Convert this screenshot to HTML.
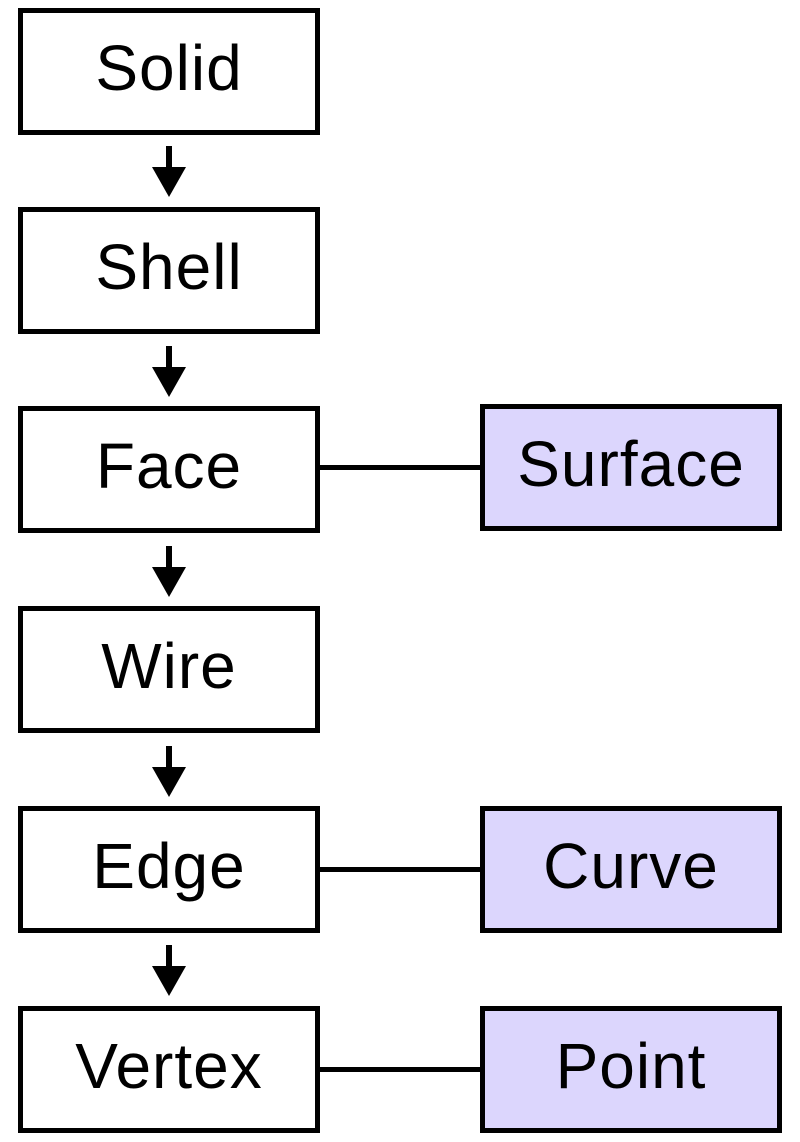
<!DOCTYPE html>
<html><head><style>
html,body{margin:0;padding:0;background:#fff;}
body{width:800px;height:1142px;position:relative;overflow:hidden;font-family:"Liberation Sans","DejaVu Sans",sans-serif;}
.b{position:absolute;box-sizing:border-box;border:5px solid #000;background:#fff;display:flex;align-items:center;justify-content:center;font-size:64px;color:#000;letter-spacing:1px;padding-bottom:8px;}
.l{left:18px;width:302px;height:127px;}
.r{left:480px;width:302px;height:127px;background:#dcd6fd;}
.h{position:absolute;left:318px;width:164px;height:5px;background:#000;}
</style></head><body>
<div class="b l" style="top:8px">Solid</div>
<div class="b l" style="top:207px">Shell</div>
<div class="b l" style="top:406px">Face</div>
<div class="b l" style="top:606px">Wire</div>
<div class="b l" style="top:806px">Edge</div>
<div class="b l" style="top:1006px">Vertex</div>
<div class="b r" style="top:404px">Surface</div>
<div class="b r" style="top:806px">Curve</div>
<div class="b r" style="top:1006px">Point</div>
<div class="h" style="top:465px"></div>
<div class="h" style="top:867px"></div>
<div class="h" style="top:1067px"></div>
<svg width="800" height="1142" style="position:absolute;left:0;top:0">
<g fill="#000">
<rect x="166" y="146" width="6" height="24"/><polygon points="152,167 186,167 169,197"/>
<rect x="166" y="346" width="6" height="24"/><polygon points="152,367 186,367 169,397"/>
<rect x="166" y="546" width="6" height="24"/><polygon points="152,567 186,567 169,597"/>
<rect x="166" y="746" width="6" height="24"/><polygon points="152,767 186,767 169,797"/>
<rect x="166" y="945" width="6" height="24"/><polygon points="152,966 186,966 169,996"/>
</g></svg>
</body></html>
